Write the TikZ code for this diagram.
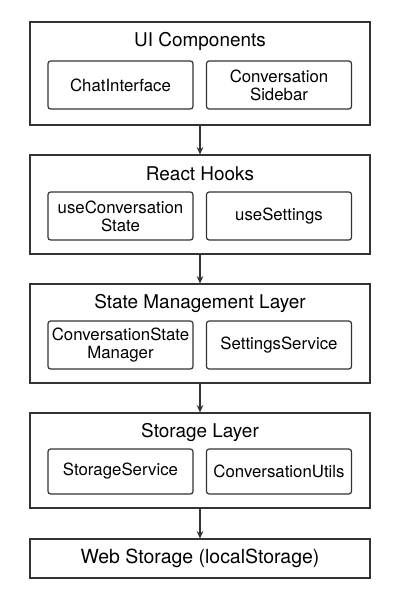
\documentclass[tikz,border=0pt]{standalone}
\usepackage{fontspec}
\setmainfont{TeX Gyre Heros}
\usetikzlibrary{arrows.meta}
\begin{document}
\begin{tikzpicture}[x=0.75pt,y=-0.75pt,
  layer/.style={draw=black!80, line width=0.9pt, minimum width=255pt, inner sep=0pt},
  comp/.style={draw=black!80, line width=0.9pt, rounded corners=2pt, minimum width=108.75pt, minimum height=36pt, inner sep=0pt, align=center, font=\fontsize{12.6}{13.5}\selectfont},
  ttl/.style={font=\fontsize{14.2}{15}\selectfont, inner sep=0pt},
  flow/.style={draw=black!80, line width=0.9pt, -{Stealth[length=5.5pt,width=5pt]}}]
\useasboundingbox (0,0) rectangle (400,600);
% layer 1
\node[layer, minimum height=77.25pt] (l1) at (200,73.5) {};
\node[ttl] (t1) at (200,41) {UI Components};
\node[comp] (c11) at (120.5,85) {ChatInterface};
\node[comp] (c12) at (279,85) {Conversation\\Sidebar};
% layer 2
\node[layer, minimum height=74.25pt] (l2) at (200,204.5) {};
\node[ttl] (t2) at (200,174) {React Hooks};
\node[comp] (c21) at (120.5,216) {useConversation\\State};
\node[comp] (c22) at (279,216) {useSettings};
% layer 3
\node[layer, minimum height=74.25pt] (l3) at (200,333.5) {};
\node[ttl] (t3) at (200,303) {State Management Layer};
\node[comp] (c31) at (120.5,345) {ConversationState\\Manager};
\node[comp] (c32) at (279,345) {SettingsService};
% layer 4
\node[layer, minimum height=71.25pt] (l4) at (200,460.5) {};
\node[ttl] (t4) at (200,432) {Storage Layer};
\node[comp, minimum height=33.75pt] (c41) at (120.5,471.5) {StorageService};
\node[comp, minimum height=33.75pt] (c42) at (279,471.5) {ConversationUtils};
% layer 5
\node[layer, minimum height=29.25pt, font=\fontsize{14.6}{15}\selectfont] (l5) at (200,558.5) {Web Storage (localStorage)};
% arrows
\draw[flow] (l1.south) -- (l2.north);
\draw[flow] (l2.south) -- (l3.north);
\draw[flow] (l3.south) -- (l4.north);
\draw[flow] (l4.south) -- (l5.north);
\end{tikzpicture}
\end{document}
